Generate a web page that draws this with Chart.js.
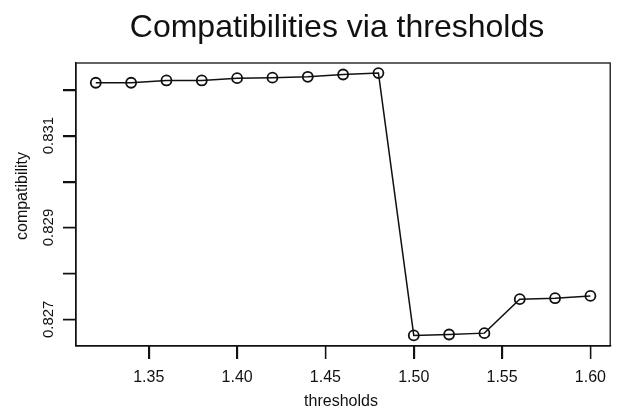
<!DOCTYPE html>
<html>
<head>
<meta charset="utf-8">
<script src="https://cdn.jsdelivr.net/npm/chart.js@4/dist/chart.umd.min.js"></script>
<style>
    body { margin: 0; background: #fff; }
    #chart { display: block; }
</style>
</head>
<body>
<canvas id="chart" width="617" height="414"></canvas>
<script>
const thresholds = [1.32, 1.34, 1.36, 1.38, 1.40, 1.42, 1.44, 1.46, 1.48, 1.50, 1.52, 1.54, 1.56, 1.58, 1.60];
const compatibility = [0.83215, 0.83215, 0.83220, 0.83220, 0.83225, 0.83226, 0.83228, 0.83233, 0.83236,
    0.82665, 0.82667, 0.82670, 0.82744, 0.82746, 0.82751];
const xTicks = [1.35, 1.40, 1.45, 1.50, 1.55, 1.60];
const yTicks = [0.827, 0.828, 0.829, 0.830, 0.831, 0.832];
const yTickLabels = ['0.827', '', '0.829', '', '0.831', ''];

const ink = '#111';
const fontFamily = '"Liberation Sans", Arial, Helvetica, sans-serif';
const tickLen = 13;

// box, tick marks, title, axis titles and the vertical y labels (R style)
const framePlugin = {
    id: 'frame',
    afterDraw(chart) {
        const ctx = chart.ctx;
        const area = chart.chartArea;
        const xScale = chart.scales.x;
        const yScale = chart.scales.y;
        ctx.save();
        ctx.strokeStyle = ink;
        ctx.lineWidth = 1.3;
        ctx.strokeRect(area.left, area.top, area.right - area.left, area.bottom - area.top);

        ctx.beginPath();
        xTicks.forEach(v => {
            const px = Math.round(xScale.getPixelForValue(v)) + 0.5;
            ctx.moveTo(px, area.bottom);
            ctx.lineTo(px, area.bottom + tickLen);
        });
        yTicks.forEach(v => {
            const py = Math.round(yScale.getPixelForValue(v)) + 0.5;
            ctx.moveTo(area.left, py);
            ctx.lineTo(area.left - tickLen, py);
        });
        ctx.stroke();

        ctx.fillStyle = ink;
        ctx.textAlign = 'center';
        ctx.textBaseline = 'alphabetic';
        ctx.font = '32px ' + fontFamily;
        ctx.fillText('Compatibilities via thresholds', 337, 37);

        ctx.font = '16px ' + fontFamily;
        ctx.fillText('thresholds', 341, 406);

        ctx.save();
        ctx.translate(27, 196);
        ctx.rotate(-Math.PI / 2);
        ctx.fillText('compatibility', 0, 0);
        ctx.restore();

        ctx.font = '15px ' + fontFamily;
        yTicks.forEach((v, i) => {
            if (!yTickLabels[i]) return;
            ctx.save();
            ctx.translate(53, yScale.getPixelForValue(v));
            ctx.rotate(-Math.PI / 2);
            ctx.fillText(yTickLabels[i], 0, 0);
            ctx.restore();
        });
        ctx.restore();
    }
};

const ctx = document.getElementById('chart').getContext('2d');
const chart = new Chart(ctx, {
    type: 'line',
    data: {
        datasets: [{
            data: thresholds.map((t, i) => ({ x: t, y: compatibility[i] })),
            borderColor: ink,
            borderWidth: 1.5,
            tension: 0,
            pointRadius: 5,
            pointBorderWidth: 1.8,
            pointBorderColor: ink,
            pointBackgroundColor: 'rgba(0,0,0,0)'
        }]
    },
    options: {
        responsive: false,
        animation: false,
        devicePixelRatio: 1,
        layout: {
            padding: { top: 63, right: 4, left: 0, bottom: 0 }
        },
        plugins: {
            legend: { display: false },
            tooltip: { enabled: false }
        },
        scales: {
            x: {
                type: 'linear',
                min: 1.3088,
                max: 1.6112,
                afterBuildTicks: (scale) => {
                    scale.ticks = xTicks.map(v => ({ value: v }));
                },
                afterFit: (scale) => {
                    scale.height = 68;
                },
                border: { display: true, color: ink, width: 1.3 },
                grid: {
                    drawOnChartArea: false,
                    drawTicks: true,
                    tickLength: tickLen,
                    color: ink,
                    lineWidth: 1.3
                },
                ticks: {
                    color: ink,
                    padding: 9,
                    maxRotation: 0,
                    font: { family: fontFamily, size: 16 },
                    callback: (value) => Number(value).toFixed(2)
                }
            },
            y: {
                type: 'linear',
                min: 0.82642,
                max: 0.83258,
                afterBuildTicks: (scale) => {
                    scale.ticks = yTicks.map(v => ({ value: v }));
                },
                afterFit: (scale) => {
                    scale.width = 76;
                },
                border: { display: true, color: ink, width: 1.3 },
                grid: {
                    drawOnChartArea: false,
                    drawTicks: true,
                    tickLength: tickLen,
                    color: ink,
                    lineWidth: 1.3
                },
                ticks: {
                    display: false
                }
            }
        }
    },
    plugins: [framePlugin]
});
</script>
</body>
</html>
